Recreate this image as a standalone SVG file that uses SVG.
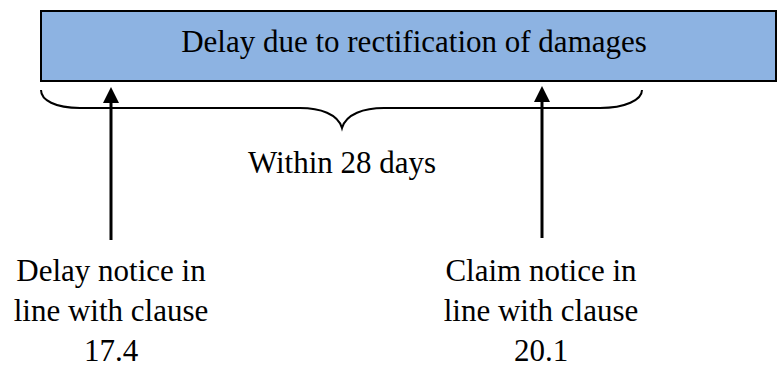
<svg xmlns="http://www.w3.org/2000/svg" width="778" height="368" viewBox="0 0 778 368">
  <style>
    .lbl { font-family: "Liberation Serif", "Times New Roman", serif; font-size: 31px; fill: #000; text-anchor: middle; }
    .box { fill: #8db3e2; stroke: #000; stroke-width: 2; }
    .brace { fill: none; stroke: #000; stroke-width: 2; }
    .arrow { fill: none; stroke: #000; stroke-width: 3; }
  </style>
  <defs>
    <!-- filled triangular head, tip 8px beyond the line end -->
    <marker id="head" markerUnits="userSpaceOnUse" markerWidth="16" markerHeight="16" refX="8" refY="8" orient="auto" viewBox="0 0 16 16">
      <path d="M0,0 L16,8 L0,16 Z" fill="#000"/>
    </marker>
  </defs>
  <rect width="778" height="368" fill="#fff"/>

  <g id="delay-box">
    <rect class="box" x="41" y="11" width="735" height="70"/>
    <text class="lbl" x="414" y="52">Delay due to rectification of damages</text>
  </g>

  <g id="period">
    <path class="brace" d="M41,90 C41,100 55,108 80,108 L300,108 C320,108 338,114 342,128 C346,114 364,108 384,108 L600,108 C625,108 642,100 642,90"/>
    <text class="lbl" x="342" y="173">Within 28 days</text>
  </g>

  <g id="delay-notice">
    <text class="lbl" x="111" y="281">Delay notice in</text>
    <text class="lbl" x="111" y="321">line with clause</text>
    <text class="lbl" x="111" y="361">17.4</text>
  </g>

  <g id="claim-notice">
    <text class="lbl" x="541" y="281">Claim notice in</text>
    <text class="lbl" x="541" y="321">line with clause</text>
    <text class="lbl" x="541" y="361">20.1</text>
  </g>

  <g id="connectors">
    <line class="arrow" x1="111" y1="240" x2="111" y2="95" marker-end="url(#head)"/>
    <line class="arrow" x1="542" y1="238" x2="542" y2="94" marker-end="url(#head)"/>
  </g>
</svg>
